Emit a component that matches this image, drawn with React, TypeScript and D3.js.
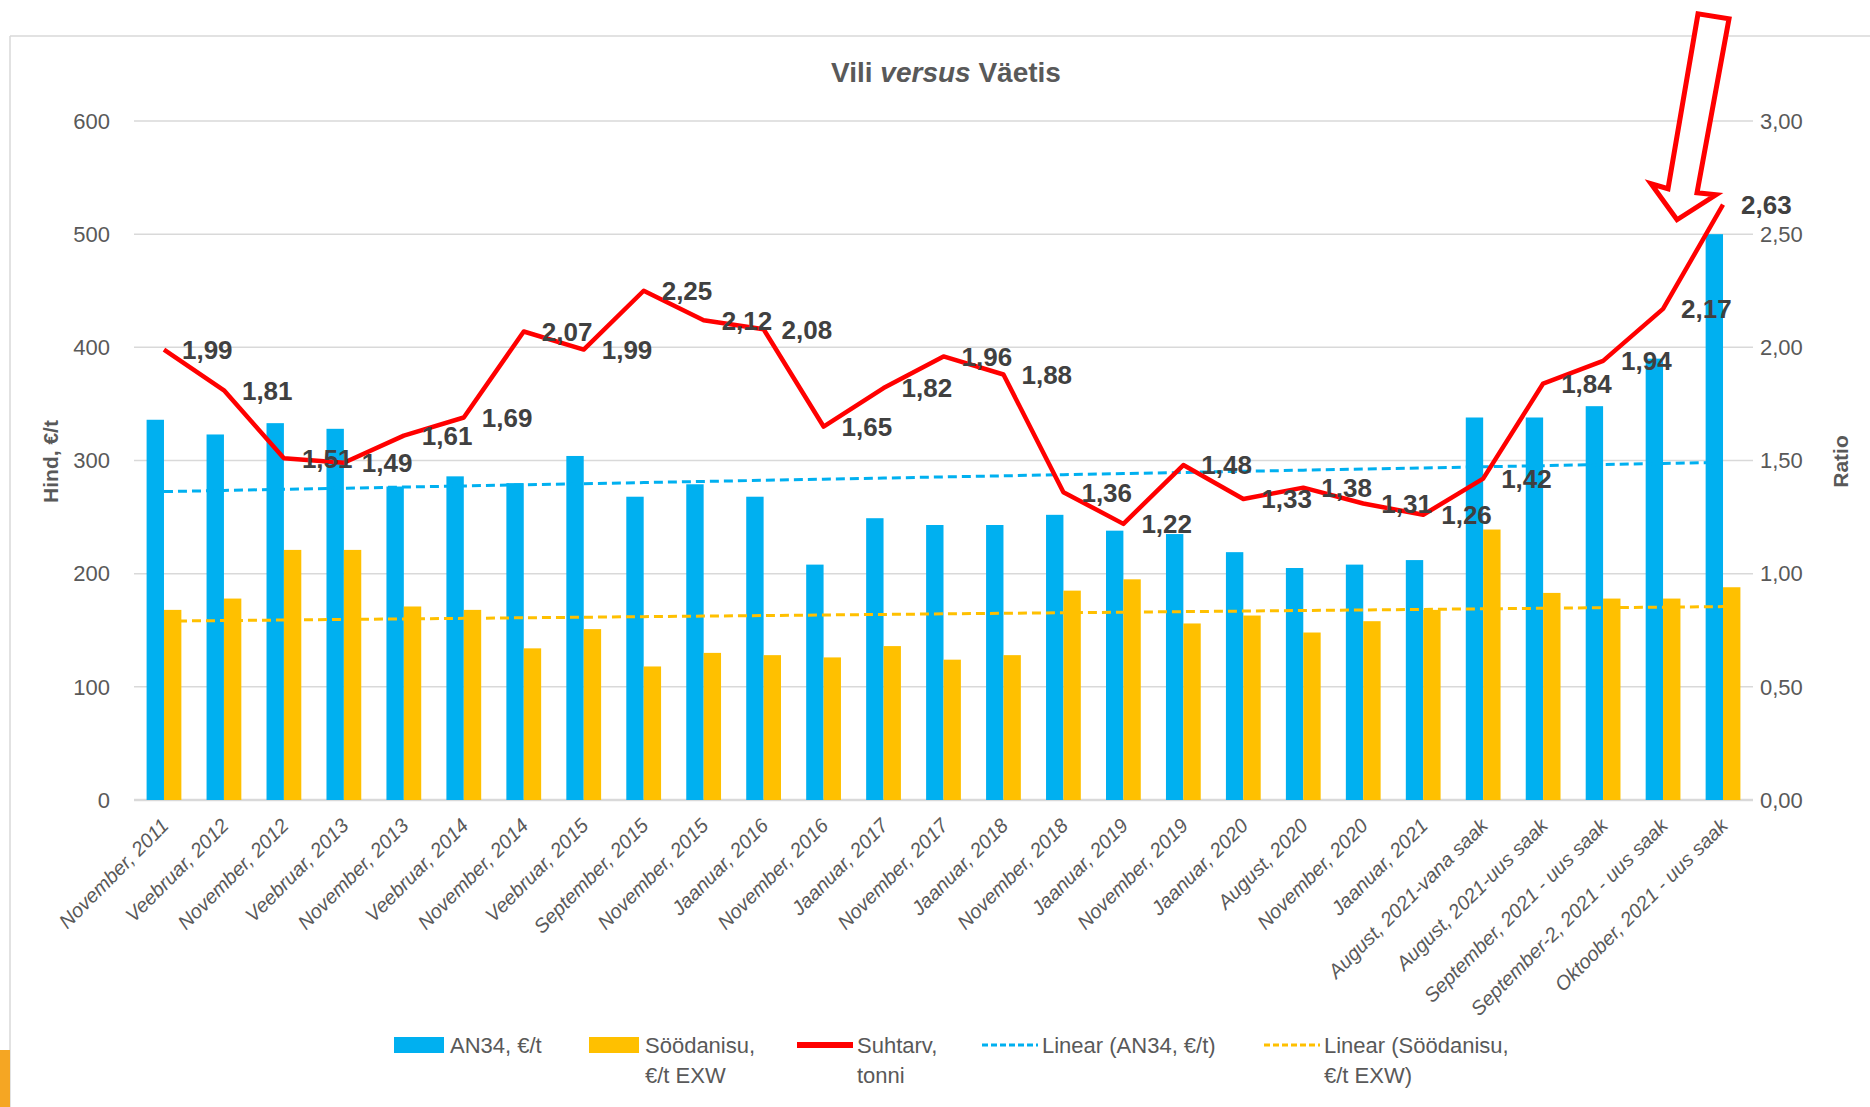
import * as d3 from 'd3';

const categories = [
  'November, 2011', 'Veebruar, 2012', 'November, 2012', 'Veebruar, 2013', 'November, 2013',
  'Veebruar, 2014', 'November, 2014', 'Veebruar, 2015', 'September, 2015', 'November, 2015',
  'Jaanuar, 2016', 'November, 2016', 'Jaanuar, 2017', 'November, 2017', 'Jaanuar, 2018',
  'November, 2018', 'Jaanuar, 2019', 'November, 2019', 'Jaanuar, 2020', 'August, 2020',
  'November, 2020', 'Jaanuar, 2021', 'August, 2021-vana saak', 'August, 2021-uus saak',
  'September, 2021 - uus saak', 'September-2, 2021 - uus saak', 'Oktoober, 2021 - uus saak'
];

// AN34, €/t
const an34 = [336, 323, 333, 328, 277, 286, 280, 304, 268, 279, 268, 208, 249, 243, 243, 252, 238, 235, 219, 205, 208, 212, 338, 338, 348, 390, 500];
// Söödanisu, €/t EXW
const soodanisu = [168, 178, 221, 221, 171, 168, 134, 151, 118, 130, 128, 126, 136, 124, 128, 185, 195, 156, 163, 148, 158, 168, 239, 183, 178, 178, 188];
// Suhtarv, tonni
const suhtarv = [1.99, 1.81, 1.51, 1.49, 1.61, 1.69, 2.07, 1.99, 2.25, 2.12, 2.08, 1.65, 1.82, 1.96, 1.88, 1.36, 1.22, 1.48, 1.33, 1.38, 1.31, 1.26, 1.42, 1.84, 1.94, 2.17, 2.63];

const leftTicks = [0, 100, 200, 300, 400, 500, 600];
const rightTicks = [0, 0.5, 1, 1.5, 2, 2.5, 3];

const BLUE = '#00b0f0';
const YELLOW = '#ffc000';
const RED = '#ff0000';
const GRID = '#d9d9d9';
const TEXT = '#595959';
const FONT = '"Liberation Sans", Arial, sans-serif';

const W = 1870;
const H = 1107;
const plot = { left: 134, right: 1753, top: 121, bottom: 800 };

const commaFmt = (v: number) => d3.format('.2f')(v).replace('.', ',');

// least squares trend, returns value at every index
const trend = (ys: number[]) => {
  const xs = ys.map((_, i) => i);
  const mx = d3.mean(xs) as number;
  const my = d3.mean(ys) as number;
  const slope = d3.sum(xs, (x, i) => (x - mx) * (ys[i] - my)) / d3.sum(xs, x => (x - mx) ** 2);
  return xs.map(x => my + slope * (x - mx));
};

const legendItems = [
  { kind: 'rect', color: BLUE, lines: ['AN34, €/t'], x: 394 },
  { kind: 'rect', color: YELLOW, lines: ['Söödanisu,', '€/t EXW'], x: 589 },
  { kind: 'line', color: RED, lines: ['Suhtarv,', 'tonni'], x: 797 },
  { kind: 'dash', color: BLUE, lines: ['Linear (AN34, €/t)'], x: 982 },
  { kind: 'dash', color: YELLOW, lines: ['Linear (Söödanisu,', '€/t EXW)'], x: 1264 },
];

export default function App() {
  const x = d3.scaleBand<string>()
    .domain(categories)
    .range([plot.left, plot.right])
    .paddingInner(0.42)
    .paddingOuter(0.21);
  const inner = d3.scaleBand<string>().domain(['a', 'b']).range([0, x.bandwidth()]);
  const yL = d3.scaleLinear().domain([0, 600]).range([plot.bottom, plot.top]);
  const yR = d3.scaleLinear().domain([0, 3]).range([plot.bottom, plot.top]);
  const cx = (c: string) => (x(c) as number) + x.bandwidth() / 2;

  const ratioLine = d3.line<number>()
    .x((_, i) => cx(categories[i]))
    .y(d => yR(d));

  const trendLine = d3.line<number>()
    .x((_, i) => cx(categories[i]))
    .y(d => yL(d));

  const blueTrend = trend(an34);
  const yellowTrend = trend(soodanisu);

  // annotation arrow placed relative to the last ratio point
  const lastIdx = categories.length - 1;
  const ax = cx(categories[lastIdx]);
  const ay = yR(suhtarv[lastIdx]);
  const arrow = [
    [-25, -191], [-55, -16], [-72, -21], [-46, 15], [-7, -10], [-26, -12], [6, -186]
  ].map(([dx, dy]) => `${ax + dx},${ay + dy}`).join(' ');

  return (
    <svg width={W} height={H} style={{ position: 'absolute', left: 0, top: 0, background: '#fff' }} fontFamily={FONT}>
      <rect x={0} y={0} width={W} height={H} fill="#fff" />
      {/* chart frame */}
      <line x1={10} x2={W} y1={36} y2={36} stroke={GRID} strokeWidth={1.5} />
      <line x1={10} x2={10} y1={36} y2={H} stroke={GRID} strokeWidth={1.5} />
      <rect x={0} y={1050} width={10} height={H - 1050} fill="#f5a623" />

      <text x={946} y={82} textAnchor="middle" fontSize={28} fontWeight="bold" fill={TEXT}>
        Vili <tspan fontStyle="italic">versus</tspan> Väetis
      </text>

      {/* grid */}
      {leftTicks.map(t => (
        <line key={t} x1={plot.left} x2={plot.right} y1={yL(t)} y2={yL(t)}
          stroke={GRID} strokeWidth={t === 0 ? 2.5 : 1.5} />
      ))}
      {leftTicks.map(t => (
        <text key={t} x={110} y={yL(t)} dy="0.35em" textAnchor="end" fontSize={22} fill={TEXT}>{t}</text>
      ))}
      {rightTicks.map(t => (
        <text key={t} x={1760} y={yR(t)} dy="0.35em" textAnchor="start" fontSize={22} fill={TEXT}>{commaFmt(t)}</text>
      ))}

      <text transform={`translate(51,${(plot.top + plot.bottom) / 2 + 1}) rotate(-90)`} dy="0.35em"
        textAnchor="middle" fontSize={21} fontWeight="bold" fill={TEXT}>Hind, €/t</text>
      <text transform={`translate(1841,${(plot.top + plot.bottom) / 2 + 1}) rotate(-90)`} dy="0.35em"
        textAnchor="middle" fontSize={21} fontWeight="bold" fill={TEXT}>Ratio</text>

      {/* bars */}
      {categories.map((c, i) => (
        <g key={c}>
          <rect x={(x(c) as number) + (inner('a') as number)} y={yL(an34[i])}
            width={inner.bandwidth()} height={yL(0) - yL(an34[i])} fill={BLUE} />
          <rect x={(x(c) as number) + (inner('b') as number)} y={yL(soodanisu[i])}
            width={inner.bandwidth()} height={yL(0) - yL(soodanisu[i])} fill={YELLOW} />
        </g>
      ))}

      {/* x labels */}
      {categories.map(c => (
        <text key={c} transform={`translate(${cx(c) + 1},822) rotate(-45)`} dy="0.35em"
          textAnchor="end" fontSize={20} fontStyle="italic" fill={TEXT}>{c}</text>
      ))}

      {/* trendlines */}
      <path d={trendLine(blueTrend) as string}
        fill="none" stroke={BLUE} strokeWidth={3} strokeDasharray="9,5" />
      <path d={trendLine(yellowTrend) as string}
        fill="none" stroke={YELLOW} strokeWidth={3} strokeDasharray="9,5" />

      {/* ratio line */}
      <path d={ratioLine(suhtarv) as string} fill="none" stroke={RED} strokeWidth={4.5} strokeLinejoin="round" />
      {suhtarv.map((v, i) => (
        <text key={i} x={cx(categories[i]) + 18} y={yR(v)} dy="0.36em" fontSize={26} fontWeight="bold" fill="#404040">
          {commaFmt(v)}
        </text>
      ))}

      <polygon points={arrow} fill="#fff" stroke={RED} strokeWidth={5} strokeLinejoin="miter" />

      {/* legend */}
      {legendItems.map(item => (
        <g key={item.lines[0]}>
          {item.kind === 'rect' && <rect x={item.x} y={1037} width={50} height={16} fill={item.color} />}
          {item.kind === 'line' && <line x1={item.x} x2={item.x + 56} y1={1045} y2={1045} stroke={item.color} strokeWidth={6} />}
          {item.kind === 'dash' && <line x1={item.x} x2={item.x + 56} y1={1045} y2={1045} stroke={item.color} strokeWidth={3} strokeDasharray="6,3" />}
          {item.lines.map((ln, j) => (
            <text key={ln} x={item.x + (item.kind === 'rect' ? 56 : 60)} y={1045 + j * 30} dy="0.35em"
              fontSize={22} fill={TEXT}>{ln}</text>
          ))}
        </g>
      ))}
    </svg>
  );
}
